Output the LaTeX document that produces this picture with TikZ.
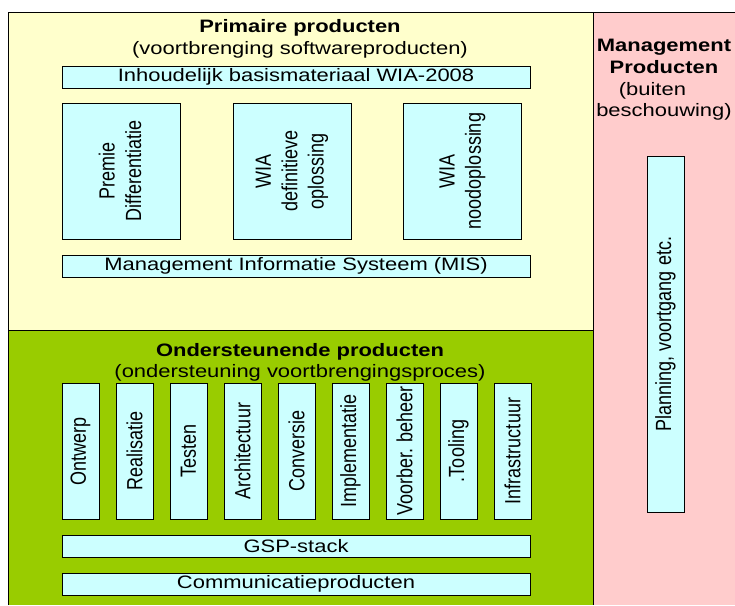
\documentclass[tikz,border=0pt]{standalone}
\usepackage{fontspec}
\usepackage{graphicx}
\setmainfont{Liberation Sans}
\newfontfamily\vfont[FakeStretch=0.8197]{Liberation Sans}
\definecolor{primbg}{HTML}{FFFFCC}
\definecolor{ondbg}{HTML}{99CC00}
\definecolor{mgtbg}{HTML}{FFCCCC}
\definecolor{boxbg}{HTML}{CCFFFF}
\newcommand{\hx}[1]{\scalebox{1.22}[1]{#1}}
\newcommand{\tx}[1]{\scalebox{1.22}[1]{\begin{tabular}{@{}c@{}}#1\end{tabular}}}
\begin{document}
\begin{tikzpicture}[x=1pt,y=-1pt,
  every node/.style={font=\fontsize{18pt}{21.6pt}\selectfont, inner sep=0pt, outer sep=0pt},
  pbox/.style={draw=black, line width=1pt, fill=boxbg},
  hbar/.style={pbox, minimum width=468pt, minimum height=22pt},
  bigbox/.style={pbox, minimum width=118pt, minimum height=136pt},
  smallbox/.style={pbox, minimum width=37pt, minimum height=136pt},
  vtext/.style={rotate=90, align=center, font=\vfont\fontsize{21.96pt}{26.4pt}\selectfont},
  region/.style={line width=1pt}]
\useasboundingbox (0,0) rectangle (735,605);
% regions
\fill[primbg] (8,12) rectangle (593,330);
\fill[ondbg] (8,330) rectangle (593,605);
\fill[mgtbg] (593,12) rectangle (735,605);
\draw[region] (8,605) -- (8,12) -- (735,12);
\draw[region] (593,12) -- (593,605);
\draw[region] (8,330) -- (593,330);
% titles
\node (primtitle) at (300,39) {\tx{\textbf{Primaire producten}\\(voortbrenging softwareproducten)}};
\node (ondtitle) at (300,362.5) {\tx{\textbf{Ondersteunende producten}\\(ondersteuning voortbrengingsproces)}};
\node (mgttitle) at (664,80) {\tx{\textbf{Management}\\\textbf{Producten}\\(buiten\hspace*{19pt}\\beschouwing)}};
% primary products
\node[hbar] (inh) at (296,77) {\hx{Inhoudelijk basismateriaal WIA-2008}};
\node[bigbox] (prem) at (121,171) {};
\node[bigbox] (wiadef) at (292,171) {};
\node[bigbox] (wianood) at (462.5,171) {};
\node[hbar] (mis) at (296,266) {\hx{Management Informatie Systeem (MIS)}};
% supporting products
\node[smallbox] (ontw) at (80.5,451) {};
\node[smallbox] (real) at (134.5,451) {};
\node[smallbox] (test) at (188.5,451) {};
\node[smallbox] (arch) at (242.5,451) {};
\node[smallbox] (conv) at (296.5,451) {};
\node[smallbox] (impl) at (350.5,451) {};
\node[smallbox] (voorb) at (404.5,451) {};
\node[smallbox] (tool) at (458.5,451) {};
\node[smallbox] (infra) at (512.5,451) {};
\node[hbar] (gsp) at (296,546) {\hx{GSP-stack}};
\node[hbar] (comm) at (296,584) {\hx{Communicatieproducten}};
% management
\node[pbox, minimum width=37pt, minimum height=356pt] (plan) at (665.5,334) {};
% rotated labels
\node[vtext] (premt) at (120,171) {Premie\\Differentiatie};
\node[vtext] (wiadeft) at (292,171) {WIA\\definitieve\\oplossing};
\node[vtext] (wianoodt) at (462.5,171) {WIA\\noodoplossing};
\node[vtext] (ontwt) at (80.5,451) {Ontwerp};
\node[vtext] (realt) at (134.5,451) {Realisatie};
\node[vtext] (testt) at (188.5,451) {Testen};
\node[vtext] (archt) at (242.5,451) {Architectuur};
\node[vtext] (convt) at (296.5,451) {Conversie};
\node[vtext] (implt) at (350.5,451) {Implementatie};
\node[vtext] (voorbt) at (404.5,451) {Voorber. beheer};
\node[vtext] (toolt) at (458.5,451) {.Tooling};
\node[vtext] (infrat) at (512.5,451) {Infrastructuur};
\node[vtext] (plant) at (665.5,334) {Planning, voortgang etc.};
\end{tikzpicture}
\end{document}
